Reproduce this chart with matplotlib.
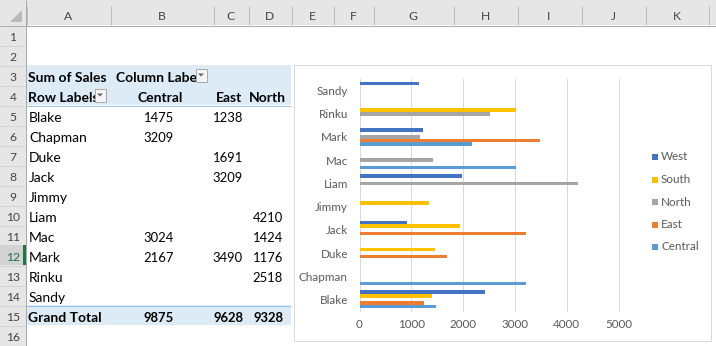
import matplotlib
matplotlib.use("Agg")
import matplotlib.pyplot as plt
from matplotlib.patches import Rectangle, Polygon

# ---- data ---------------------------------------------------------------
names = ["Blake", "Chapman", "Duke", "Jack", "Jimmy",
         "Liam", "Mac", "Mark", "Rinku", "Sandy"]
central = [1475, 3209, None, None, None, None, 3024, 2167, None, None]
east = [1238, None, 1691, 3209, None, None, None, 3490, None, None]
north = [None, None, None, None, None, 4210, 1424, 1176, 2518, None]
south = [1400, None, 1458, 1940, 1342, None, None, None, 3015, None]
west = [2423, None, None, 917, None, 1979, None, 1226, None, 1149]

series_names = ["Central", "East", "North", "South", "West"]
series_values = [central, east, north, south, west]
series_colors = ["#5B9BD5", "#ED7D31", "#A5A5A5", "#FFC000", "#4472C4"]
x_ticks = [0, 1000, 2000, 3000, 4000, 5000]

col_letters = ["A", "B", "C", "D", "E", "F", "G", "H", "I", "J", "K"]
col_edges = [26, 110, 213, 248, 291, 333, 373, 453, 517, 581, 645, 708]

# ---- canvas -------------------------------------------------------------
W, H = 716, 346
FONT = "Lato"
CELL_FS = 10
NUM_FS = 9.4
HEAD_FS = 8.7
CHART_FS = 8.4
TXT_GRAY = "#595959"

fig = plt.figure(figsize=(W / 100, H / 100), dpi=100)
fig.patch.set_facecolor("white")

bg = fig.add_axes([0, 0, 1, 1])
bg.set_xlim(0, W)
bg.set_ylim(H, 0)
bg.axis("off")

PX = 0.72  # one pixel in points


def hline(y, x0, x1, color, lw=1, z=3):
    bg.plot([x0, x1], [y, y], color=color, lw=lw * PX, zorder=z,
            solid_capstyle="butt")


def vline(x, y0, y1, color, lw=1, z=3):
    bg.plot([x, x], [y0, y1], color=color, lw=lw * PX, zorder=z,
            solid_capstyle="butt")


def row_bottom(r):
    return 25 + 20 * r


# column header band
bg.add_patch(Rectangle((0, 0), W, 25, fc="#E6E6E6", ec="none", zorder=1))
hline(25.5, 0, W, "#ABABAB")
for x in col_edges:
    vline(x + 0.5, 6, 25, "#BDBDBD")
for i, letter in enumerate(col_letters):
    cx = (col_edges[i] + col_edges[i + 1]) / 2
    bg.text(cx, 19.5, letter, ha="center", va="baseline", fontsize=HEAD_FS,
            family=FONT, color="#444444", zorder=4)
bg.add_patch(Polygon([(22, 10), (22, 22), (10, 22)], closed=True,
                     fc="#B9B9B9", ec="none", zorder=4))

# row header column
bg.add_patch(Rectangle((0, 25), 26, H - 25, fc="#E6E6E6", ec="none", zorder=1))
bg.add_patch(Rectangle((0, 245), 25, 20, fc="#D2D2D2", ec="none", zorder=2))
vline(25.5, 0, H, "#ABABAB")
for r in range(1, 17):
    hline(row_bottom(r) + 0.5, 0, 25, "#D4D4D4")
    bg.text(13, row_bottom(r) - 3.7, str(r), ha="center", va="baseline",
            fontsize=HEAD_FS, family=FONT,
            color="#217346" if r == 12 else "#444444", zorder=4)
bg.add_patch(Rectangle((23, 245), 2.5, 20, fc="#217346", ec="none", zorder=4))

# pivot table bands
bg.add_patch(Rectangle((26, 65), 265, 40, fc="#DDEBF7", ec="none", zorder=1))
bg.add_patch(Rectangle((26, 305), 265, 20, fc="#DDEBF7", ec="none", zorder=1))
hline(105.5, 26, 291, "#9BC2E6")
hline(305.5, 26, 291, "#9BC2E6")


def cell_text(x, r, s, ha="left", bold=False, clip_x=None, fs=CELL_FS):
    t = bg.text(x, row_bottom(r) - 3.5, s, ha=ha, va="baseline",
                fontsize=fs, family=FONT,
                fontweight="bold" if bold else "normal",
                color="#000000", zorder=4)
    if clip_x is not None:
        clip = Rectangle((0, 0), clip_x, H, transform=bg.transData)
        t.set_clip_path(clip)
    return t


def dropdown(x, y):
    bg.add_patch(Rectangle((x + 0.5, y + 0.5), 11, 13, fc="#F4F4F4",
                           ec="#ABABAB", lw=PX, zorder=5))
    cx, cy = x + 6, y + 7
    bg.add_patch(Polygon([(cx - 3, cy - 1.5), (cx + 3, cy - 1.5), (cx, cy + 1.5)],
                         closed=True, fc="#666666", ec="none", zorder=6))


cell_text(28, 3, "Sum of Sales", bold=True)
cell_text(116, 3, "Column Labels", bold=True, clip_x=196)
dropdown(195, 68)
cell_text(28, 4, "Row Labels", bold=True, clip_x=93)
dropdown(94, 88)
cell_text(183, 4, "Central", ha="right", bold=True)
cell_text(242, 4, "East", ha="right", bold=True)
cell_text(286, 4, "North", ha="right", bold=True)

value_right = [174, 243, 283]
for k, name in enumerate(names):
    r = 5 + k
    cell_text(29, r, name)
    for vals, xr in zip([central, east, north], value_right):
        if vals[k] is not None:
            cell_text(xr, r, str(vals[k]), ha="right", fs=NUM_FS)

cell_text(28, 15, "Grand Total", bold=True)
for vals, xr in zip([central, east, north], value_right):
    total = sum(v for v in vals if v is not None)
    cell_text(xr, 15, str(total), ha="right", bold=True, fs=NUM_FS)

# chart area
bg.add_patch(Rectangle((293.5, 64.5), 417, 276, fc="white", ec="#D9D9D9",
                       lw=PX, zorder=7))

# ---- clustered bar chart -------------------------------------------------
plot_left, plot_right = 359.5, 618.5
plot_top, plot_bottom = 79, 311
ax = fig.add_axes([plot_left / W, 1 - plot_bottom / H,
                   (plot_right - plot_left) / W, (plot_bottom - plot_top) / H])
ax.patch.set_alpha(0)
ax.set_xlim(0, 5000)
ax.set_ylim(-0.5, len(names) - 0.5)

slot = 1 / 6.5
for i, (vals, color) in enumerate(zip(series_values, series_colors)):
    offset = (i - 2) * slot
    ys = [k + offset for k, v in enumerate(vals) if v is not None]
    ws = [v for v in vals if v is not None]
    ax.barh(ys, ws, height=slot, color=color, linewidth=0, zorder=3)

ax.set_xticks(x_ticks)
ax.set_xticklabels([str(t) for t in x_ticks])
ax.set_yticks(range(len(names)))
ax.set_yticklabels(names)
ax.tick_params(axis="both", length=0, colors=TXT_GRAY, labelsize=CHART_FS)
ax.tick_params(axis="y", pad=8.3)
ax.tick_params(axis="x", pad=6)
for lab in ax.get_xticklabels() + ax.get_yticklabels():
    lab.set_family(FONT)
for s in ax.spines.values():
    s.set_visible(False)
ax.xaxis.grid(True, color="#D9D9D9", lw=PX)
ax.yaxis.grid(False)
ax.set_axisbelow(True)
for gl in ax.get_xgridlines():
    gl.set_clip_on(False)

# legend, listed top-down in reverse series order
leg_y0, leg_step = 157, 22.5
for j, (name, color) in enumerate(zip(series_names[::-1], series_colors[::-1])):
    yc = leg_y0 + j * leg_step
    bg.add_patch(Rectangle((652, yc - 3), 6, 6, fc=color, ec="none", zorder=8))
    bg.text(661, yc, name, ha="left", va="center", fontsize=CHART_FS,
            family=FONT, color=TXT_GRAY, zorder=8)

fig.savefig("out.png", dpi=100)
